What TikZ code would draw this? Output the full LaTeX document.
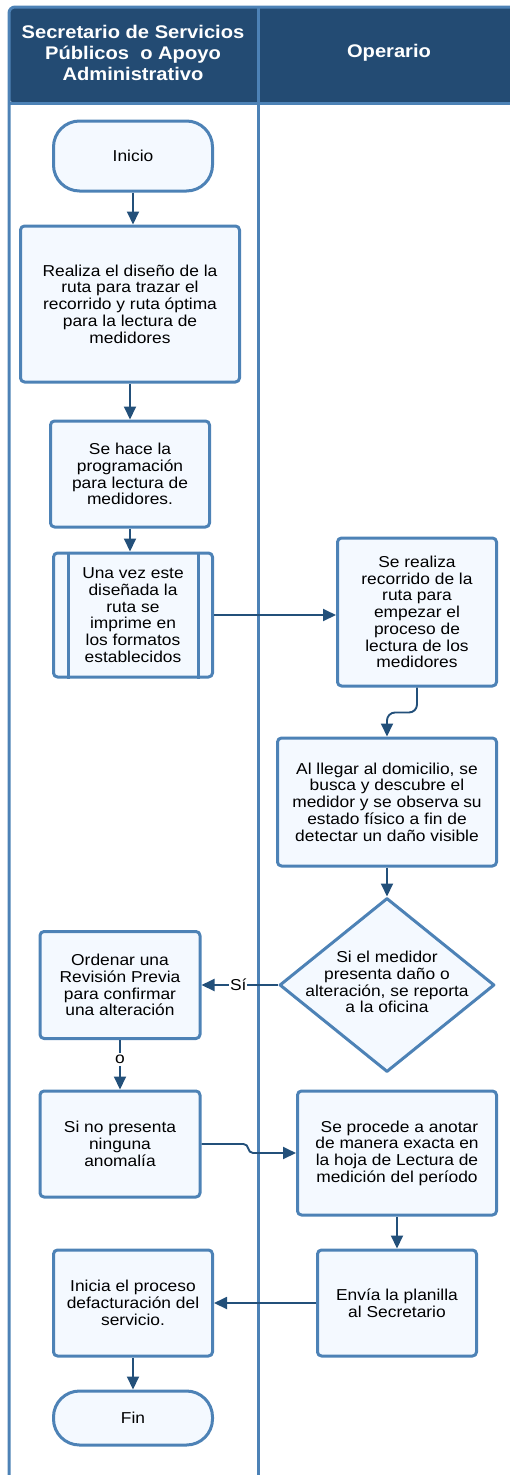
\documentclass[tikz,border=0pt]{standalone}
\usepackage{fontspec}
\setmainfont{Liberation Sans}[FakeStretch=1.1]
\usetikzlibrary{arrows.meta,shapes.geometric}
\definecolor{cabecera}{HTML}{234B73}
\definecolor{borde}{HTML}{4D82B6}
\definecolor{flecha}{HTML}{23507A}
\definecolor{relleno}{HTML}{F4F9FF}
\begin{document}
\begin{tikzpicture}[x=1pt, y=-1pt, font=\fontsize{15.8}{16.7}\selectfont, line join=round,
  >={Triangle[width=12pt,length=13pt]},
  caja/.style={draw=borde, line width=3pt, fill=relleno, rounded corners=4pt, align=center, inner sep=0pt},
  terminal/.style={draw=borde, line width=3pt, fill=relleno, rounded corners=26pt, align=center, inner sep=0pt},
  decision/.style={draw=borde, line width=3pt, fill=relleno, diamond, inner sep=0pt},
  flujo/.style={->, draw=flecha, line width=1.9pt},
  carril/.style={draw=borde, line width=3pt}]
\useasboundingbox (0,0) rectangle (510,1475);
\clip (0,0) rectangle (510,1475);
% carriles y cabecera
\fill[cabecera, rounded corners=6pt] (9,7) rectangle (530,103);
\draw[carril, rounded corners=6pt] (9,1480) -- (9,7) -- (530,7);
\draw[carril] (9,103) -- (530,103);
\draw[carril] (258,7) -- (258,1480);
\node[white, font=\bfseries\fontsize{18.3}{21}\selectfont, align=center] (hsec) at (133,53)
  {Secretario de Servicios\\Públicos\ \ o Apoyo\\Administrativo};
\node[white, font=\bfseries\fontsize{18.3}{21}\selectfont] (hope) at (389,53) {Operario};
% nodos
\node[terminal, minimum width=159pt, minimum height=70pt] (ini) at (133,156) {Inicio};
\node[caja, minimum width=219pt, minimum height=156pt] (dis) at (130,304)
  {Realiza el diseño de la\\ruta para trazar el\\recorrido y ruta óptima\\para la lectura de\\medidores};
\node[caja, minimum width=159pt, minimum height=106pt] (prog) at (130,474)
  {Se hace la\\programación\\para lectura de\\medidores.};
\node[caja, minimum width=159pt, minimum height=124pt] (imp) at (133,615)
  {Una vez este\\diseñada la\\ruta se\\imprime en\\los formatos\\establecidos};
\draw[borde, line width=3pt] ([xshift=16pt]imp.north west) -- ([xshift=16pt]imp.south west)
  ([xshift=-16pt]imp.north east) -- ([xshift=-16pt]imp.south east);
\node[caja, minimum width=159pt, minimum height=148pt] (rec) at (417,612)
  {Se realiza\\recorrido de la\\ruta para\\empezar el\\proceso de\\lectura de los\\medidores};
\node[caja, minimum width=219pt, minimum height=128pt] (dom) at (387,802)
  {Al llegar al domicilio, se\\busca y descubre el\\medidor y se observa su\\estado físico a fin de\\detectar un daño visible};
\node[decision, minimum width=215pt, minimum height=174pt] (dano) at (387,985) {};
\node[align=center] (danot) at (387,982)
  {Si el medidor\\presenta daño o\\alteración, se reporta\\a la oficina};
\node[caja, minimum width=160pt, minimum height=107pt] (rev) at (120,985)
  {Ordenar una\\Revisión Previa\\para confirmar\\una alteración};
\node[caja, minimum width=160pt, minimum height=106pt] (noan) at (120,1144)
  {Si no presenta\\ninguna\\anomalía};
\node[caja, minimum width=199pt, minimum height=124pt] (anot) at (397,1153)
  {\ Se procede a anotar\\de manera exacta en\\la hoja de Lectura de\\medición del período};
\node[caja, minimum width=159pt, minimum height=106pt] (env) at (397,1303)
  {Envía la planilla\\al Secretario};
\node[caja, minimum width=159pt, minimum height=106pt] (fact) at (133,1303)
  {Inicia el proceso\\defacturación del\\servicio.};
\node[terminal, minimum width=159pt, minimum height=54pt] (fin) at (133,1418) {Fin};
\coordinate (codo) at (253,1153);
% conectores
\draw[flujo] (ini) -- (ini|-dis.north);
\draw[flujo] (dis) -- (prog);
\draw[flujo] (prog) -- (prog|-imp.north);
\draw[flujo] (imp) -- (rec.west|-imp);
\draw[flujo, rounded corners=8pt] (rec.south) -- ++(0,25) -| (dom.north);
\draw[flujo] (dom) -- (dano.north);
\draw[flujo] (dano.west) -- node[fill=white, inner sep=1pt, pos=0.52] (si) {Sí} (rev);
\draw[flujo] (rev) -- node[fill=white, inner sep=2pt, pos=0.4] (o) {o} (noan);
\draw[flujo] (noan.east) -- ++(42,0) .. controls +(6,0) and +(-6,0) .. (codo) -- (anot.west);
\draw[flujo] (anot) -- (env);
\draw[flujo] (env) -- (fact);
\draw[flujo] (fact) -- (fin);
\end{tikzpicture}
\end{document}
